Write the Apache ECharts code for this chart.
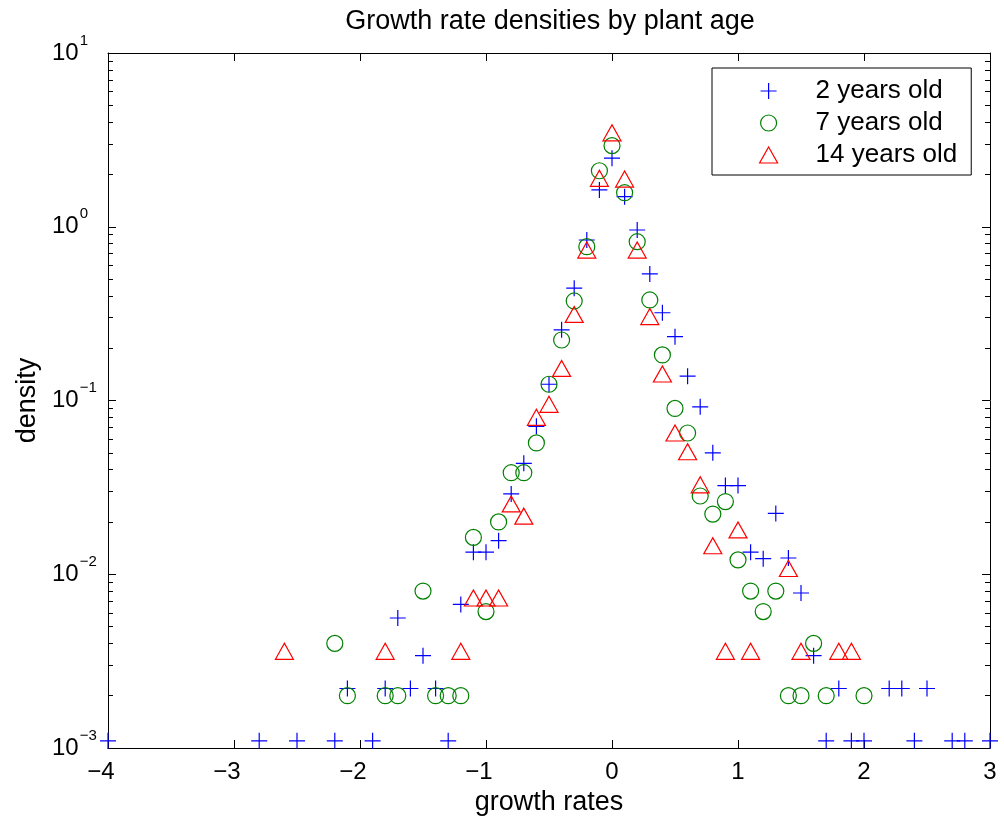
<!DOCTYPE html>
<html>
<head>
<meta charset="utf-8">
<script src="https://cdn.jsdelivr.net/npm/echarts@6/dist/echarts.min.js"></script>
<style>
  html, body { margin: 0; padding: 0; background: #fff; }
  #chart { width: 1004px; height: 825px; }
</style>
</head>
<body>
<div id="chart"></div>
<script>
// Histogram-bin densities of growth rates, one series per plant age
const seriesNames = ['2 years old', '7 years old', '14 years old'];

const age2X = [-4.0, -2.8, -2.5, -2.2, -2.1, -1.9, -1.8, -1.7, -1.6, -1.5, -1.4, -1.3, -1.2, -1.1, -1.0, -0.9, -0.8, -0.7, -0.6, -0.5, -0.4, -0.3, -0.2, -0.1, 0.0, 0.1, 0.2, 0.3, 0.4, 0.5, 0.6, 0.7, 0.8, 0.9, 1.0, 1.1, 1.2, 1.3, 1.4, 1.5, 1.6, 1.7, 1.8, 1.9, 2.0, 2.2, 2.3, 2.4, 2.5, 2.7, 2.8, 3.0];
const age2Y = [0.0011, 0.0011, 0.0011, 0.0011, 0.0022, 0.0011, 0.0022, 0.0056, 0.0022, 0.0034, 0.0022, 0.0011, 0.0067, 0.0134, 0.0134, 0.0156, 0.029, 0.0435, 0.071, 0.124, 0.255, 0.443, 0.839, 1.63, 2.48, 1.49, 0.958, 0.535, 0.32, 0.233, 0.138, 0.092, 0.050, 0.0324, 0.0324, 0.0134, 0.0123, 0.0224, 0.0124, 0.0078, 0.0034, 0.0011, 0.0022, 0.0011, 0.0011, 0.0022, 0.0022, 0.0011, 0.0022, 0.0011, 0.0011, 0.0011];

const age7X = [-2.2, -2.1, -1.8, -1.7, -1.5, -1.4, -1.3, -1.2, -1.1, -1.0, -0.9, -0.8, -0.7, -0.6, -0.5, -0.4, -0.3, -0.2, -0.1, 0.0, 0.1, 0.2, 0.3, 0.4, 0.5, 0.6, 0.7, 0.8, 0.9, 1.0, 1.1, 1.2, 1.3, 1.4, 1.5, 1.6, 1.7, 2.0];
const age7Y = [0.004, 0.002, 0.002, 0.002, 0.008, 0.002, 0.002, 0.002, 0.0163, 0.0061, 0.020, 0.0384, 0.0384, 0.057, 0.124, 0.223, 0.374, 0.768, 2.10, 2.93, 1.57, 0.82, 0.379, 0.183, 0.090, 0.065, 0.0282, 0.0222, 0.0262, 0.0121, 0.008, 0.0061, 0.008, 0.002, 0.002, 0.004, 0.002, 0.002];

const age14X = [-2.6, -1.8, -1.2, -1.1, -1.0, -0.9, -0.8, -0.7, -0.6, -0.5, -0.4, -0.3, -0.2, -0.1, 0.0, 0.1, 0.2, 0.3, 0.4, 0.5, 0.6, 0.7, 0.8, 0.9, 1.0, 1.1, 1.4, 1.5, 1.8, 1.9];
const age14Y = [0.0036, 0.0036, 0.0036, 0.0073, 0.0073, 0.0073, 0.0254, 0.0216, 0.080, 0.095, 0.153, 0.313, 0.734, 1.90, 3.47, 1.88, 0.734, 0.304, 0.142, 0.065, 0.0507, 0.0327, 0.0146, 0.0036, 0.018, 0.0036, 0.0108, 0.0036, 0.0036, 0.0036];

// Axis ticks
const xTicks = [-4, -3, -2, -1, 0, 1, 2, 3];
const yMajorTicks = [0.001, 0.01, 0.1, 1, 10];
const yMinorTicks = [];
for (let d = -3; d < 1; d++) {
  for (let k = 2; k <= 9; k++) yMinorTicks.push(k * Math.pow(10, d));
}

const FONT = 'Liberation Sans, Arial, Helvetica, sans-serif';
const MINUS = '\u2212';

function zip(xs, ys) { return xs.map((x, i) => [x, ys[i]]); }

const chart = echarts.init(document.getElementById('chart'), null, { renderer: 'canvas' });

const gridBox = { left: 108, top: 53, right: 14, bottom: 77 };

function yAxisDef(position, withLabels, ticks, tickLen, showLine) {
  const ax = {
    type: 'log', logBase: 10, min: 0.001, max: 10, position: position,
    axisLine: { show: showLine, onZero: false, lineStyle: { color: '#000', width: 1 } },
    axisTick: { show: true, inside: true, length: tickLen, customValues: ticks, lineStyle: { color: '#000', width: 1 } },
    axisLabel: { show: false },
    splitLine: { show: false },
    minorTick: { show: false }
  };
  if (withLabels) {
    ax.axisLabel = {
      show: true, customValues: yMajorTicks, align: 'left', margin: 56,
      formatter: function (v) {
        const e = Math.round(Math.log10(v));
        return '{b|10}{s|' + (e < 0 ? MINUS + (-e) : String(e)) + '}';
      },
      rich: {
        b: { fontSize: 24, lineHeight: 40, fontFamily: FONT, color: '#000' },
        s: { fontSize: 15, lineHeight: 15, verticalAlign: 'top', fontFamily: FONT, color: '#000', padding: [0, 0, 0, 1] }
      }
    };
    ax.name = 'density';
    ax.nameLocation = 'middle';
    ax.nameGap = 64;
    ax.nameTextStyle = { fontSize: 27, fontFamily: FONT, color: '#000' };
  }
  return ax;
}

function xAxisDef(position, withLabels) {
  const ax = {
    type: 'value', min: -4, max: 3, interval: 1, position: position,
    axisLine: { show: true, onZero: false, lineStyle: { color: '#000', width: 1 } },
    axisTick: { show: true, inside: true, length: 8, lineStyle: { color: '#000', width: 1 } },
    axisLabel: { show: false },
    splitLine: { show: false }
  };
  if (withLabels) {
    ax.axisLabel = {
      show: true, margin: 12, customValues: xTicks,
      formatter: function (v) {
        return v < 0 ? '{n|' + MINUS + (-v) + '}' : '{p|' + v + '}';
      },
      rich: {
        n: { fontSize: 24, fontFamily: FONT, color: '#000', padding: [0, 14, 0, 0] },
        p: { fontSize: 24, fontFamily: FONT, color: '#000' }
      }
    };
    ax.name = 'growth rates';
    ax.nameLocation = 'middle';
    ax.nameGap = 41;
    ax.nameTextStyle = { fontSize: 27, fontFamily: FONT, color: '#000' };
  }
  return ax;
}

const plusPath = 'path://M8,0 L8,16 M0,8 L16,8';

function scatter(name, xs, ys, symbol, size, color) {
  return {
    name: name, type: 'scatter', xAxisIndex: 0, yAxisIndex: 0,
    data: zip(xs, ys), symbol: symbol, symbolSize: size, clip: false,
    itemStyle: { color: 'rgba(0,0,0,0)', borderColor: color, borderWidth: 1.2, opacity: 1 },
    emphasis: { disabled: true }
  };
}

chart.setOption({
  animation: false,
  backgroundColor: '#fff',
  grid: gridBox,
  graphic: [{
    type: 'text', x: 550, y: 22,
    style: { text: 'Growth rate densities by plant age', font: '27px ' + FONT, fill: '#000', align: 'center', verticalAlign: 'middle' }
  }],
  xAxis: [xAxisDef('bottom', true), xAxisDef('top', false)],
  yAxis: [
    yAxisDef('left', true, yMajorTicks, 8, true),
    yAxisDef('left', false, yMinorTicks, 5, false),
    yAxisDef('right', false, yMajorTicks, 8, true),
    yAxisDef('right', false, yMinorTicks, 5, false)
  ],
  legend: {
    orient: 'vertical', left: 712, top: 68,
    data: seriesNames,
    backgroundColor: '#fff', borderColor: '#000', borderWidth: 1, borderRadius: 0,
    padding: [10, 14, 7, 47],
    itemWidth: 18, itemHeight: 16, itemGap: 6,
    itemStyle: { borderWidth: 1.2 },
    textStyle: { fontSize: 26, fontFamily: FONT, color: '#000', padding: [0, 0, 0, 33] },
    selectedMode: false
  },
  series: [
    scatter(seriesNames[0], age2X, age2Y, plusPath, 16, '#0000ff'),
    scatter(seriesNames[1], age7X, age7Y, 'circle', 16, '#008000'),
    scatter(seriesNames[2], age14X, age14Y, 'triangle', [18, 16], '#ff0000')
  ]
});
</script>
</body>
</html>
